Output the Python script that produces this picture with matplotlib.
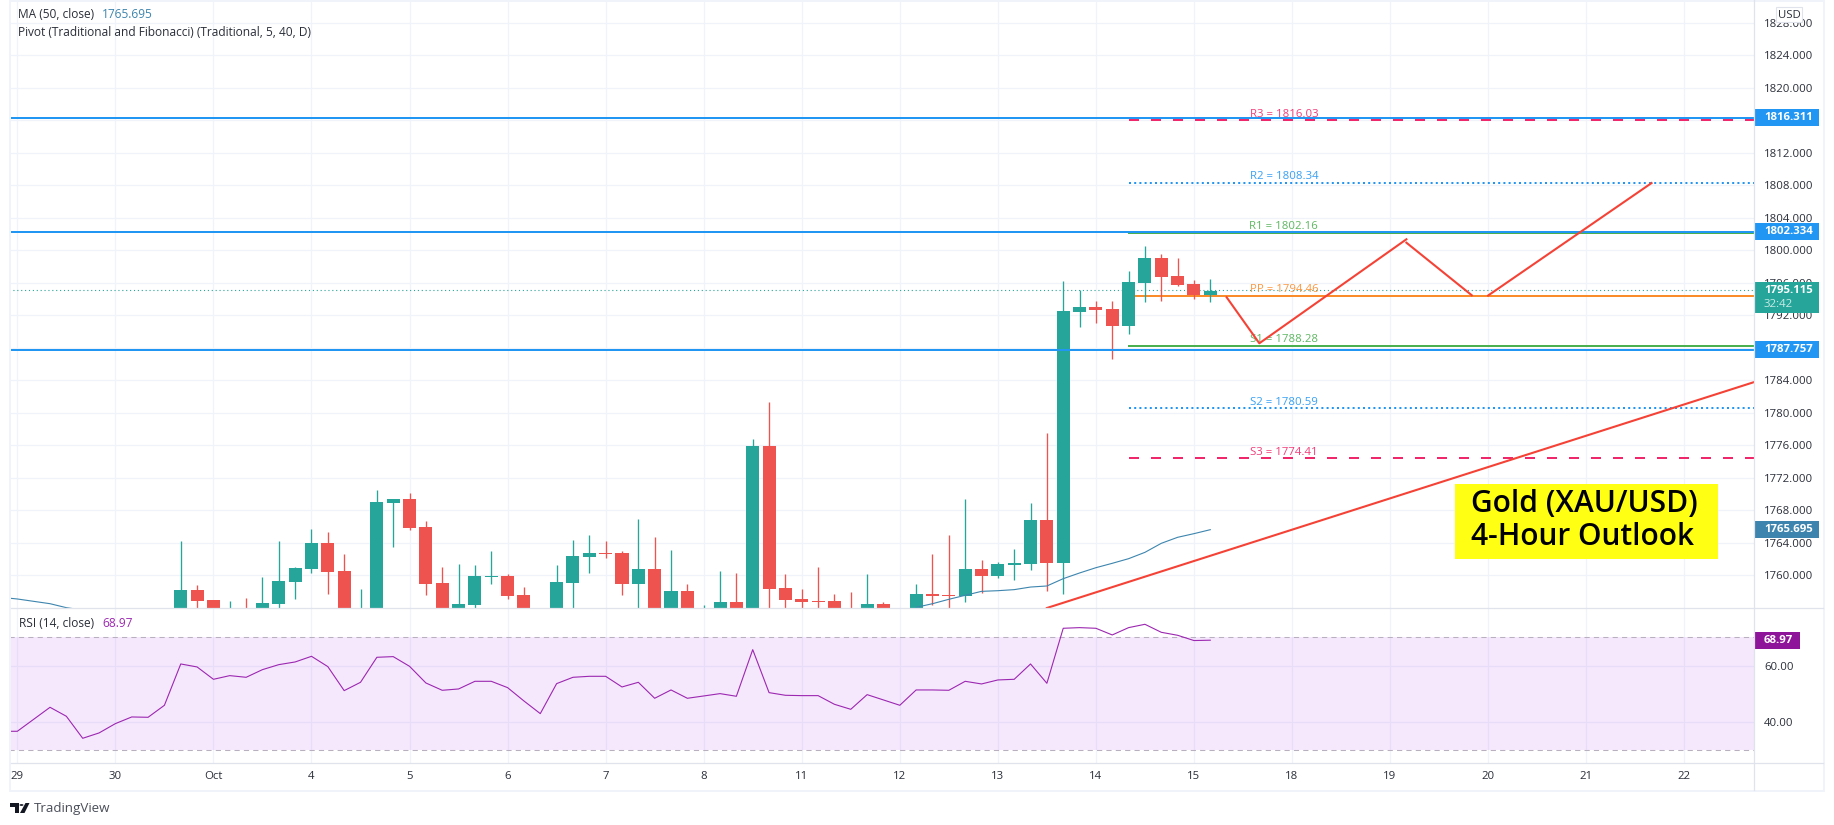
import matplotlib
matplotlib.use("Agg")
import matplotlib.pyplot as plt
from matplotlib.lines import Line2D
from matplotlib.patches import Rectangle, Polygon, Circle

W, H = 1834, 825
plt.rcParams['font.family'] = ['Open Sans', 'DejaVu Sans']

# bars are 4h, first visible candle is bar 10 (bar 0 sits on the "29" tick)
first_bar = 10
opens = [1754, 1758.22, 1756.98, 1753, 1755, 1754, 1756.49, 1759.2, 1760.8, 1764.0, 1760.55, 1753, 1754, 1768.92,
         1769.42, 1765.97, 1759.08, 1754, 1756.37, 1759.82, 1759.94, 1757.6, 1753, 1754, 1759.08, 1762.28, 1762.77,
         1762.77, 1758.95, 1760.8, 1754, 1758.09, 1753, 1754, 1756.74, 1754, 1775.94, 1758.46, 1757.11, 1756.86,
         1756.86, 1755, 1754, 1756.49, 1753, 1754, 1757.72, 1757.6, 1757.48, 1760.8, 1759.94, 1761.29, 1761.42,
         1766.83, 1761.54, 1792.44, 1793.05, 1792.8, 1790.71, 1796.0, 1799.08, 1796.87, 1795.88, 1794.53]
highs = [1764.25, 1758.83, 1756.98, 1756.86, 1757.23, 1759.8, 1764.25, 1761.05, 1765.72, 1765.35, 1762.65, 1758.34,
         1770.52, 1769.42, 1770.15, 1766.71, 1761.05, 1761.42, 1761.29, 1763.02, 1760.18, 1758.58, 1755.5, 1761.29,
         1764.37, 1764.98, 1764.25, 1763.02, 1766.95, 1764.74, 1763.14, 1758.95, 1756.37, 1760.55, 1760.31, 1776.8,
         1781.35, 1760.18, 1758.34, 1761.05, 1757.72, 1757.97, 1760.18, 1756.74, 1755.5, 1758.95, 1762.65, 1764.98,
         1769.42, 1761.91, 1761.66, 1763.26, 1768.92, 1777.54, 1796.25, 1795.14, 1793.79, 1793.79, 1797.48, 1800.56,
         1799.57, 1799.08, 1796.37, 1796.5]
lows = [1753, 1753, 1753, 1752, 1752, 1753, 1753, 1757.11, 1760.31, 1757.72, 1753, 1752, 1753, 1763.51, 1765.6,
        1757.6, 1753, 1753, 1753, 1758.95, 1757.11, 1753, 1752, 1753, 1753, 1760.31, 1762.15, 1757.6, 1753, 1753,
        1753, 1753, 1752, 1753, 1753, 1753, 1753, 1753, 1753, 1753, 1753, 1752, 1753, 1753, 1752, 1753, 1756.37,
        1753, 1756.74, 1757.85, 1759.69, 1759.45, 1760.68, 1758.09, 1757.72, 1790.59, 1791.08, 1786.65, 1789.73,
        1793.67, 1793.79, 1795.64, 1794.04, 1793.67]
closes = [1758.22, 1756.86, 1754, 1754.5, 1753, 1756.6, 1759.32, 1760.92, 1764.0, 1760.43, 1754, 1754.5, 1769.05,
          1769.42, 1765.85, 1758.95, 1754, 1756.49, 1759.94, 1759.94, 1757.48, 1754, 1754.5, 1759.2, 1762.4, 1762.77,
          1762.65, 1758.95, 1760.8, 1754, 1758.09, 1754, 1754.5, 1756.74, 1754, 1775.94, 1758.34, 1756.98, 1756.74,
          1756.74, 1754, 1753, 1756.49, 1754, 1754.5, 1757.72, 1757.48, 1757.48, 1760.8, 1759.94, 1761.42, 1761.54,
          1766.83, 1761.54, 1792.56, 1793.05, 1792.68, 1790.71, 1796.13, 1799.08, 1796.74, 1795.76, 1794.53, 1795.02]

ma_left_bars = [-1, 0, 1, 2, 3, 4]
ma_left = [1757.31, 1757.11, 1756.82, 1756.53, 1756.04, 1755.75]
ma_right_bars = list(range(55, 74))
ma_right = [1756.08, 1756.53, 1757.07, 1757.56, 1758.05, 1758.13, 1758.26, 1758.58, 1758.71, 1759.61, 1760.31,
            1760.96, 1761.5, 1762.07, 1762.85, 1763.96, 1764.7, 1765.15, 1765.64]

rsi_first_bar = -1
rsi = [36.73, 36.73, 40.97, 45.22, 42.04, 34.25, 36.14, 39.44, 41.8, 41.68, 45.93, 60.56, 59.5, 55.13, 56.43, 55.84,
       58.55, 60.32, 61.27, 63.27, 59.62, 51.12, 54.07, 62.92, 63.16, 59.73, 53.83, 51.24, 51.71, 54.42, 54.42,
       52.18, 47.46, 42.98, 53.6, 55.84, 56.19, 56.19, 52.42, 54.07, 48.41, 51.36, 48.41, 49.23, 50.06, 49.12,
       65.63, 50.41, 49.47, 49.35, 49.35, 46.28, 44.51, 49.7, 47.82, 45.93, 51.36, 51.36, 51.24, 54.42, 53.48,
       54.9, 55.13, 60.56, 53.72, 73.19, 73.42, 73.19, 70.83, 73.42, 74.6, 71.77, 70.71, 68.85, 68.97]

day_bars = [0, 6, 12, 18, 24, 30, 36, 42, 48, 54, 60, 66, 72, 78, 84, 90, 96, 102]
day_labels = ['29', '30', 'Oct', '4', '5', '6', '7', '8', '11', '12', '13', '14', '15', '18', '19', '20', '21', '22']
price_ticks = list(range(1760, 1829, 4))
hidden_tick = 1816  # sits right under the 1816.311 tag
rsi_ticks = [40, 60]

pivot_names = ['R3', 'R2', 'R1', 'PP', 'S1', 'S2', 'S3']
pivot_values = [1816.03, 1808.34, 1802.16, 1794.46, 1788.28, 1780.59, 1774.41]
pivot_colors = ['#f0276a', '#2196f3', '#4caf50', '#fb8c2a', '#4caf50', '#2196f3', '#f0276a']
pivot_styles = [(0, (5, 6)), (0, (1, 1.6)), '-', '-', '-', (0, (1, 1.6)), (0, (5, 6))]
hlines = [1816.311, 1802.334, 1787.757]

trend_bars = [63, 106.27]
trend_prices = [1756.0, 1783.8]
zigzag_bars = [[74, 76, 85], [85, 89], [90, 100]]
zigzag_prices = [[1794.24, 1788.58, 1801.38], [1800.96, 1794.49], [1794.46, 1808.3]]

last_price = 1795.115
last_ma = 1765.695
last_rsi = 68.97

TXT = '#2a2e39'
GRID = '#f0f3fa'
SEP = '#e0e3eb'
UP = '#26a69a'
DOWN = '#ef5350'
BLUE = '#2196f3'
MA_COL = '#3d85ae'
RSI_COL = '#9c27b0'
TICK_SIZE = 8.2
LEGEND_SIZE = 8.6


def px(x, y):
    return x / W, 1 - y / H


def fig_rect(x0, y0, x1, y1, **kw):
    fig.add_artist(Rectangle(px(x0, y1), (x1 - x0) / W, (y1 - y0) / H, transform=fig.transFigure, **kw))


def fig_label(x, y, s, **kw):
    kw.setdefault('fontsize', LEGEND_SIZE)
    kw.setdefault('color', TXT)
    kw.setdefault('va', 'center')
    fig.text(*px(x, y), s, **kw)


def price_box(ax, value, text, color, width=65, height=17, sub=None):
    # height in pixels turned into price units through the axis scale
    unit = (ax.get_ylim()[1] - ax.get_ylim()[0]) / ax.get_window_extent().height
    top = value + height / 2 * unit
    bottom = value - height / 2 * unit
    if sub:
        bottom = value - (height / 2 + 14) * unit
    ax.add_patch(Rectangle((1.0, bottom), width / 1745, top - bottom, transform=ax.get_yaxis_transform(),
                           color=color, lw=0, clip_on=False, zorder=10))
    ax.text(1 + 10 / 1745, value, text, transform=ax.get_yaxis_transform(), color='white', fontsize=TICK_SIZE,
            fontweight='bold', va='center', ha='left', zorder=11)
    if sub:
        ax.text(1 + 10 / 1745, value - 14 * unit, sub, transform=ax.get_yaxis_transform(), color='#c8ebe6',
                fontsize=TICK_SIZE, va='center', ha='left', zorder=11)


fig = plt.figure(figsize=(W / 100, H / 100), dpi=100, facecolor='white')
ax = fig.add_axes([9 / W, 1 - 608 / H, 1745 / W, 608 / H])
ax_rsi = fig.add_axes([9 / W, 1 - 763 / H, 1745 / W, 155 / H])

for a in (ax, ax_rsi):
    a.set_xlim(-0.51, 106.27)
    a.set_xticks(day_bars)
    a.set_axisbelow(True)
    a.grid(True, color=GRID, lw=0.9)
    a.yaxis.tick_right()
    a.tick_params(length=0, labelsize=TICK_SIZE, labelcolor=TXT)
    a.tick_params(axis='y', pad=7.2)
    for s in a.spines.values():
        s.set_visible(False)

ax.set_ylim(1756, 1830.83)
ax.set_yticks(price_ticks)
ax.set_yticklabels(['' if p == hidden_tick else '%.3f' % p for p in price_ticks])
ax.tick_params(labelbottom=False)

# pivots
for name, val, col, ls in zip(pivot_names, pivot_values, pivot_colors, pivot_styles):
    ax.plot([68, 106.27], [val, val], color=col, lw=1.44, ls=ls, zorder=3, dash_capstyle='butt')
    ax.annotate('%s = %.2f' % (name, val), (77.5, val), xytext=(0, 4.4), textcoords='offset points', color=col,
                alpha=0.9, fontsize=TICK_SIZE, ha='center', va='center', zorder=3)

ax.axhline(last_price, color=UP, lw=0.8, ls=(0, (1, 2.5)), zorder=2)

# candles
bars = list(range(first_bar, first_bar + len(opens)))
colors = [UP if c >= o else DOWN for o, c in zip(opens, closes)]
ax.vlines(bars, lows, highs, colors=colors, lw=0.95, zorder=4)
ax.bar(bars, [abs(c - o) for o, c in zip(opens, closes)], bottom=[min(o, c) for o, c in zip(opens, closes)],
       width=0.8, color=colors, lw=0, zorder=4)

ax.plot(ma_left_bars, ma_left, color=MA_COL, lw=0.8, zorder=4.5)
ax.plot(ma_right_bars, ma_right, color=MA_COL, lw=0.8, zorder=4.5)

for h in hlines:
    ax.axhline(h, color=BLUE, lw=1.44, zorder=5)

ax.plot(trend_bars, trend_prices, color='#f44336', lw=1.5, zorder=6)
for xs, ys in zip(zigzag_bars, zigzag_prices):
    ax.plot(xs, ys, color='#f44336', lw=1.5, zorder=6)

for h in hlines:
    price_box(ax, h, '%.3f' % h, BLUE)
price_box(ax, last_price, '%.3f' % last_price, UP, sub='32:42')
price_box(ax, last_ma, '%.3f' % last_ma, MA_COL)

# rsi pane
ax_rsi.set_ylim(25.5, 80.37)
ax_rsi.set_yticks(rsi_ticks)
ax_rsi.set_yticklabels(['%.2f' % r for r in rsi_ticks])
ax_rsi.set_xticklabels(day_labels)
ax_rsi.tick_params(axis='x', pad=6)
ax_rsi.axhspan(30, 70, facecolor='#a020f0', alpha=0.1, lw=0, zorder=1)
for lvl in (30, 70):
    ax_rsi.axhline(lvl, color='#b8b0bf', lw=0.75, ls=(0, (5, 4)), zorder=1.5)
ax_rsi.plot(range(rsi_first_bar, rsi_first_bar + len(rsi)), rsi, color=RSI_COL, lw=0.8, zorder=3)
price_box(ax_rsi, last_rsi, '%.2f' % last_rsi, '#8e1599', width=46)

# frame and separators
fig_rect(9, 0, 11, 792, color=GRID, lw=0)
fig_rect(9, 0, 1825, 1.5, color=GRID, lw=0)
fig_rect(1823, 0, 1825, 792, color=GRID, lw=0)
fig_rect(9, 790, 1825, 792, color=GRID, lw=0)
for xs, ys in [((11, 1823), (608, 608)), ((11, 1823), (763, 763)), ((1754, 1754), (0, 790))]:
    fig.add_artist(Line2D([x / W for x in xs], [1 - y / H for y in ys], color=SEP, lw=0.9))

# legends
fig_label(18, 14.7, 'MA (50, close)')
fig_label(101.7, 14.7, '1765.695', color=MA_COL)
fig_label(18, 32, 'Pivot (Traditional and Fibonacci) (Traditional, 5, 40, D)')
fig_label(18.6, 623.7, 'RSI (14, close)')
fig_label(102, 623.7, '68.97', color=RSI_COL)

# currency tag
fig.add_artist(Rectangle(px(1776, 22), 26 / W, 15 / H, transform=fig.transFigure, facecolor='white',
                         edgecolor=SEP, lw=0.8, zorder=5))
fig_label(1789, 15, 'USD', ha='center', fontsize=TICK_SIZE, zorder=6)

# yellow caption
fig_rect(1455, 484, 1718, 559, color='#ffff14', lw=0, zorder=5)
fig_label(1470.7, 504, 'Gold (XAU/USD)', fontsize=21.5, color='black', fontweight='semibold', zorder=6)
fig_label(1470.7, 536.7, '4-Hour Outlook', fontsize=21.5, color='black', fontweight='semibold', zorder=6)

# logo
fig.add_artist(Polygon([px(10, 803), px(19, 803), px(19, 813), px(14.5, 813), px(14.5, 807), px(10, 807)],
                       transform=fig.transFigure, color='#131722', lw=0))
fig.add_artist(Polygon([px(25.5, 803), px(29.5, 803), px(24.5, 813), px(20, 813)],
                       transform=fig.transFigure, color='#131722', lw=0))
fig.add_artist(Circle(px(21.5, 805), 2 / W, transform=fig.transFigure, color='#131722', lw=0))
fig_label(33.6, 808.5, 'TradingView', fontsize=9.6, color='#4a4e59')

fig.savefig('out.png', dpi=100)
